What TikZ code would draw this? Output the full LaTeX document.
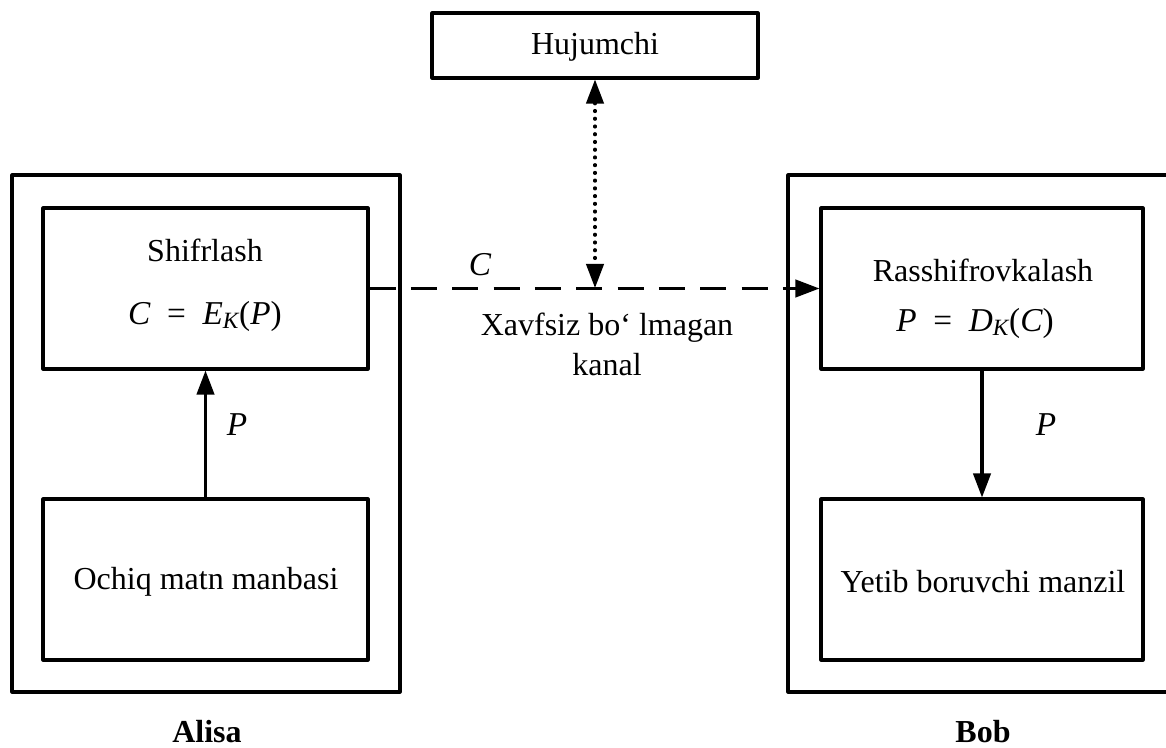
\documentclass[tikz,border=0pt]{standalone}
\usepackage{fontspec}
\setmainfont{Liberation Serif}
\usetikzlibrary{arrows.meta}

% one unit = one pixel of a 1166 x 748 canvas, y pointing down
\tikzset{
  x=0.75pt, y=-0.75pt,
  boxframe/.style={draw, line width=2.3pt, line join=round, inner sep=0pt},
  lbl/.style={inner sep=0pt, font=\fontsize{24}{28}\selectfont},
  sym/.style={inner sep=0pt, font=\fontsize{25}{30}\selectfont\itshape},
  flow/.style={line width=2.3pt, -{Triangle[length=18pt,width=13pt]}},
  channel/.style={line width=2.3pt, dash pattern=on 19.5pt off 11.5pt, -{Triangle[length=18pt,width=13pt]}},
  tap/.style={line width=2.3pt, line cap=round, dash pattern=on 0.8pt off 5pt, {Triangle[length=18pt,width=13pt]}-{Triangle[length=18pt,width=13pt]}}
}

\begin{document}
\begin{tikzpicture}
\useasboundingbox (0,0) rectangle (1166,748);

% attacker
\node[boxframe, minimum width={326*0.75pt}, minimum height={65*0.75pt}] (huj) at (595,45.5) {};
\node[lbl] (hujt) at (595,47) {Hujumchi};

% Alisa side
\node[boxframe, minimum width={388*0.75pt}, minimum height={517*0.75pt}] (alisa) at (206,433.5) {};
\node[boxframe, minimum width={325*0.75pt}, minimum height={161*0.75pt}] (enc) at (205.5,288.5) {};
\node[boxframe, minimum width={325*0.75pt}, minimum height={161*0.75pt}] (src) at (205.5,579.5) {};
\node[lbl] (enct) at (205,250) {Shifrlash};
\node[sym] (encf) at (205,316) {C\enspace{\upshape=}\enspace E\textsubscript{K}{\upshape(}P{\upshape)}};
\node[lbl] (srct) at (206,582) {Ochiq matn manbasi};
\node[lbl, font=\fontsize{24}{28}\selectfont\bfseries] (alisat) at (207,732) {Alisa};

% Bob side
\node[boxframe, minimum width={388*0.75pt}, minimum height={517*0.75pt}] (bob) at (982,433.5) {};
\node[boxframe, minimum width={322*0.75pt}, minimum height={161*0.75pt}] (dec) at (982,288.5) {};
\node[boxframe, minimum width={322*0.75pt}, minimum height={161*0.75pt}] (dst) at (982,579.5) {};
\node[lbl] (dect) at (983,270) {Rasshifrovkalash};
\node[sym] (decf) at (975,323) {P\enspace{\upshape=}\enspace D\textsubscript{K}{\upshape(}C{\upshape)}};
\node[lbl] (dstt) at (983,582) {Yetib boruvchi manzil};
\node[lbl, font=\fontsize{24}{28}\selectfont\bfseries] (bobt) at (983,732) {Bob};

% insecure channel
\coordinate (tapp) at (595,288);
\draw[channel] (enc.east) -- (dec.west);
\draw[tap] (huj.south) -- (tapp);
\node[sym] (ct) at (480,265) {C};
\node[lbl] (ch1) at (607,328) {Xavfsiz bo‘ lmagan};
\node[lbl] (ch2) at (607,365) {kanal};

% plaintext flows
\draw[flow] (src.north) -- (enc.south);
\draw[flow] (dec.south) -- (dst.north);
\node[sym] (p1) at (237,425) {P};
\node[sym] (p2) at (1046,425) {P};
\end{tikzpicture}
\end{document}
